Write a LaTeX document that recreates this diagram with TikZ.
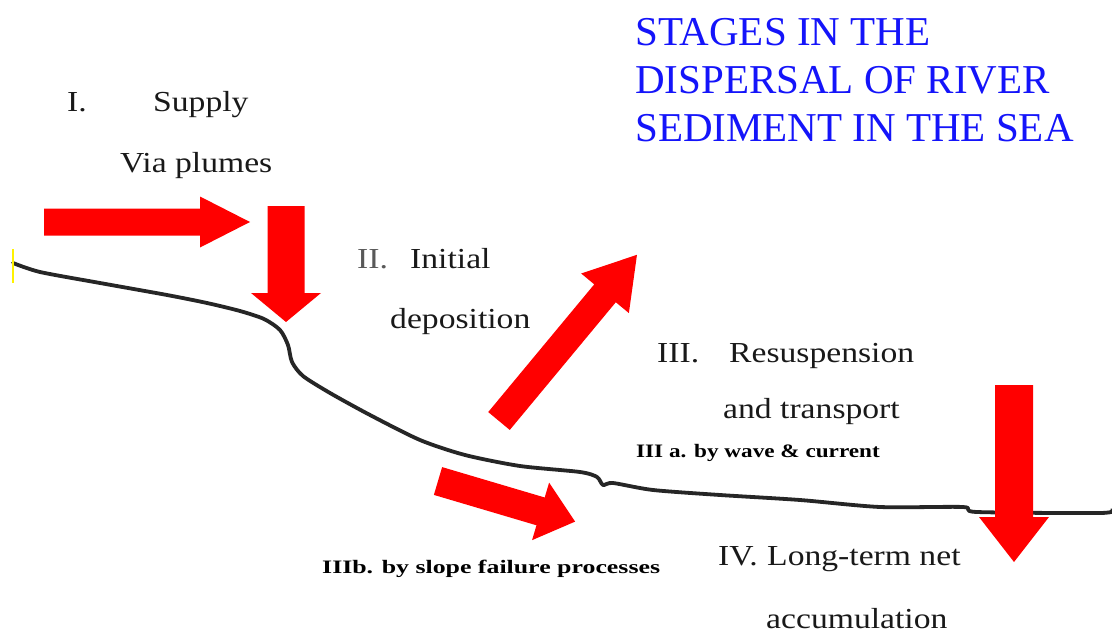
\documentclass[tikz,border=0pt]{standalone}
\usepackage{fontspec}
\usepackage{graphicx}
\setmainfont{Liberation Serif}
\newcommand\wid[2][1.16]{\scalebox{#1}[1]{#2}}
\newcommand\fatarrow[7]{%
  \fill[arrowfill,shift={(#1,#2)},rotate=#3]
    (0,-#5) -- (#4-#6,-#5) -- (#4-#6,-#7) -- (#4,0) -- (#4-#6,#7) -- (#4-#6,#5) -- (0,#5) -- cycle;}
\begin{document}
\begin{tikzpicture}[x=1pt,y=-1pt,
  arrowfill/.style={fill=red},
  lab/.style={anchor=base west,inner sep=0pt,text=black!90,font=\fontsize{29}{32}\selectfont},
  small/.style={anchor=base west,inner sep=0pt,text=black,font=\bfseries\fontsize{19}{21}\selectfont},
  title/.style={anchor=base west,inner sep=0pt,text={rgb,255:red,20;green,20;blue,250},font=\fontsize{41}{48}\selectfont},
  seabed/.style={line width=3.8pt,draw=black!85,line join=round,line cap=round}]
\useasboundingbox (0,0) rectangle (1112,634);
\fill[white] (0,0) rectangle (1112,634);
% title
\node[title] (t1) at (635,46) {STAGES IN THE};
\node[title] (t2) at (635,94) {DISPERSAL OF RIVER};
\node[title] (t3) at (635,142) {SEDIMENT IN THE SEA};
% sea floor
\draw[seabed] plot[smooth,tension=0.45] coordinates {(13,263) (40,272) (100,283) (167,295) (207,303) (240,311) (264,319) (280,330) (288,345) (292,362) (303,376) (330,393) (370,415) (420,440) (465,455) (520,466) (580,472) (597,477) (603,485) (613,483) (653,490) (720,495) (800,500) (880,507) (963,507) (977,512) (1100,513) (1112,510)};
\draw[yellow,line width=1.5pt] (13,249) -- (13,283);
% arrows
\fatarrow{44}{222}{0}{206}{13.5}{50}{25.5}
\fatarrow{286}{206}{-90}{116}{18.5}{29}{35}
\fatarrow{499}{421}{50.3}{216}{14}{50}{31}
\fatarrow{438}{481}{-16.5}{143}{14.5}{36}{30}
\fatarrow{1014}{385}{-90}{177}{19}{45}{35}
% labels
\node[lab] (n1) at (67,112) {\wid{I.}};
\node[lab] (s1) at (153,112) {\wid{Supply}};
\node[lab] (s1b) at (120,172) {\wid{Via plumes}};
\node[lab,text=black!65] (n2) at (357,268) {\wid{II.}};
\node[lab] (s2) at (410,268) {\wid{Initial}};
\node[lab] (s2b) at (390,328) {\wid{deposition}};
\node[lab] (n3) at (657,362) {\wid{III.}};
\node[lab] (s3) at (729,362) {\wid{Resuspension}};
\node[lab] (s3b) at (723,418) {\wid{and transport}};
\node[small] (s3a) at (636,457) {\wid[1.22]{III a. by wave \& current}};
\node[small] (s3c) at (322,573) {\wid[1.36]{IIIb. by slope failure processes}};
\node[lab] (n4) at (718,565) {\wid{IV.}};
\node[lab] (s4) at (767,565) {\wid{Long-term net}};
\node[lab] (s4b) at (766,628) {\wid{accumulation}};
\end{tikzpicture}
\end{document}
